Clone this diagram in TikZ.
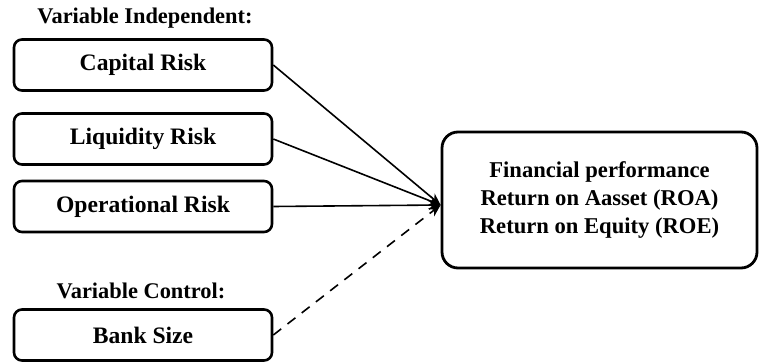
\documentclass[tikz,border=0pt]{standalone}
\usepackage{fontspec}
\setmainfont{Liberation Serif}
\usetikzlibrary{arrows.meta}
\begin{document}
\begin{tikzpicture}[x=0.5pt,y=-0.5pt,
  box/.style={draw,line width=1.3pt,rounded corners=4pt,minimum width=129pt,minimum height=25.5pt,inner sep=0pt,font=\fontsize{11.8}{13}\selectfont\bfseries},
  bigbox/.style={draw,line width=1.4pt,rounded corners=8pt,minimum width=157.5pt,minimum height=68pt,inner sep=0pt,align=center,font=\fontsize{11.3}{14}\selectfont\bfseries},
  lbl/.style={inner sep=0pt,font=\fontsize{11.2}{13}\selectfont\bfseries},
  conn/.style={line width=0.8pt,-{Stealth[length=6pt,width=5pt]}}]
\useasboundingbox (0,0) rectangle (759,363);
\node[lbl] (li) at (145,18) {Variable Independent:};
\node[box] (cap) at (143,65) {Capital Risk};
\node[box] (liq) at (143,139) {Liquidity Risk};
\node[box] (ope) at (143,206.5) {Operational Risk};
\node[lbl] (lc) at (141,291) {Variable Control:};
\node[box] (bank) at (143,335) {Bank Size};
\node[bigbox] (perf) at (599.5,200) {Financial performance\\Return on Aasset (ROA)\\Return on Equity (ROE)};
\coordinate (tip) at ([yshift=-2.5pt]perf.west);
\draw[conn] (cap.east) -- (tip);
\draw[conn] (liq.east) -- (tip);
\draw[conn] (ope.east) -- (tip);
\draw[conn,dashed,dash pattern=on 5pt off 4pt] (bank.east) -- (tip);
\end{tikzpicture}
\end{document}
